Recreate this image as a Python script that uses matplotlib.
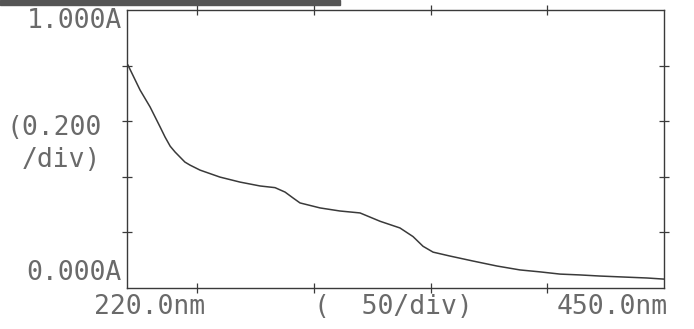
#!/usr/bin/env python3
"""Absorbance scan 220-450 nm, redrawn from a spectrophotometer printout."""

import matplotlib
matplotlib.use("Agg")
import matplotlib.pyplot as plt
from matplotlib.patches import Rectangle

# wavelength (nm) and absorbance (A)
wavelength = [220.4, 225.6, 229.9, 234.2, 236.3, 238.5, 240.6, 242.7, 244.8,
              247.0, 251.3, 259.8, 268.4, 277.0, 283.4, 287.7, 291.1, 294.1,
              302.7, 311.2, 319.8, 328.4, 336.9, 342.5, 346.8, 351.1, 358.3,
              368.2, 378.5, 388.3, 396.9, 405.5, 414.0, 422.6, 431.2, 442.7,
              450.0]
absorbance = [0.802, 0.712, 0.651, 0.579, 0.543, 0.510, 0.489, 0.471, 0.453,
              0.442, 0.424, 0.399, 0.381, 0.367, 0.361, 0.345, 0.324, 0.306,
              0.288, 0.277, 0.270, 0.240, 0.216, 0.185, 0.150, 0.129, 0.115,
              0.097, 0.079, 0.065, 0.058, 0.050, 0.047, 0.043, 0.040, 0.036,
              0.032]

x_ticks = [250, 300, 350, 400]
y_ticks = [0.2, 0.4, 0.6, 0.8]

W, H = 694, 329
ink = "#3a3a3a"
txt = "#6a6a6a"

fig = plt.figure(figsize=(W / 100, H / 100), dpi=100)
fig.patch.set_facecolor("white")
ax = fig.add_axes([127 / W, 1 - 288 / H, (664 - 127) / W, (288 - 10) / H])

ax.plot(wavelength, absorbance, color=ink, linewidth=1.1)
ax.set_xlim(220, 450)
ax.set_ylim(0, 1.0)
ax.set_xticks(x_ticks)
ax.set_yticks(y_ticks)
ax.tick_params(direction="inout", length=7, width=0.9, color=ink,
               top=True, right=True, labelbottom=False, labelleft=False)
for s in ax.spines.values():
    s.set_color(ink)
    s.set_linewidth(1.0)

# scanner artefact along the top edge
fig.patches.append(Rectangle((0, 1 - 5 / H), 340 / W, 5 / H,
                             transform=fig.transFigure, color="#555555"))

font = dict(family="DejaVu Sans Mono", fontsize=19, color=txt)

def put(text, x, y, ha="left"):
    fig.text(x / W, 1 - y / H, text, ha=ha, va="center", **font)

put("1.000A", 122, 21, ha="right")
put("(0.200", 6, 128)
put("/div)", 22, 160)
put("0.000A", 122, 273, ha="right")
put("220.0nm", 150, 307, ha="center")
put("(  50/div)", 314, 307)
put("450.0nm", 668, 307, ha="right")

fig.savefig("out.png", dpi=100)
